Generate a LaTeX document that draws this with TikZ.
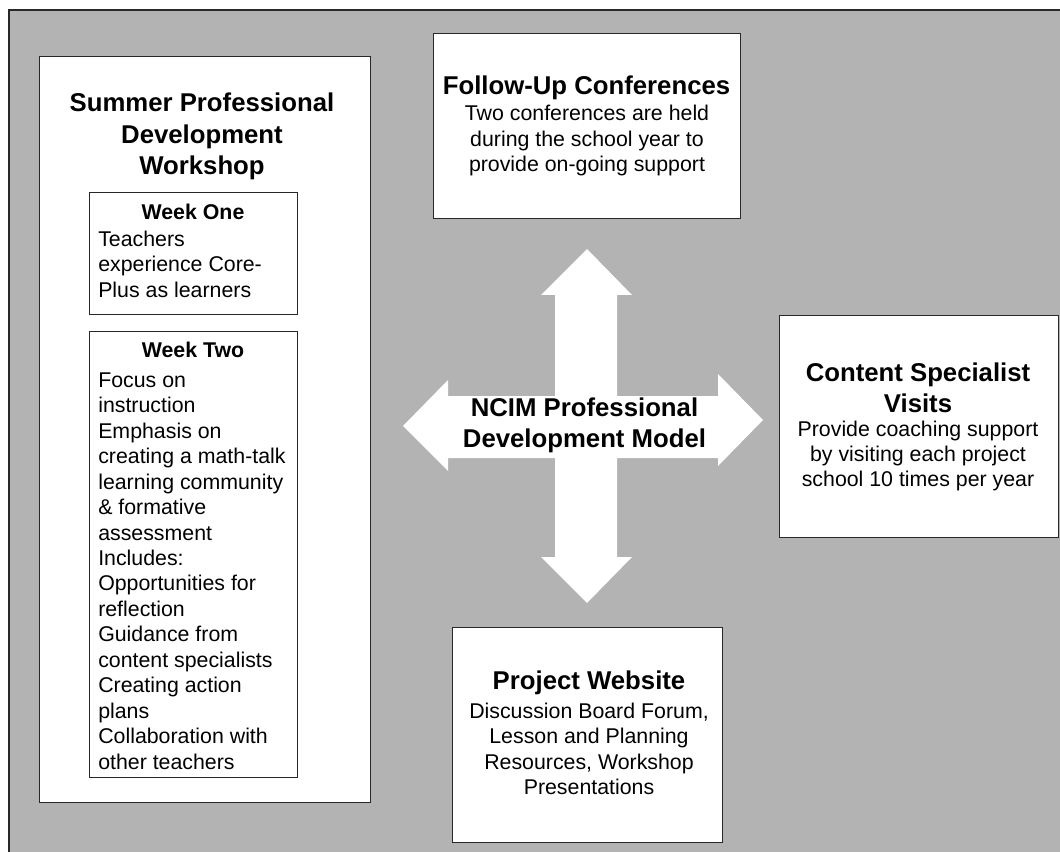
\documentclass[tikz,border=0pt]{standalone}
\usepackage{fontspec}
\setmainfont{Liberation Sans}
\definecolor{bggray}{RGB}{179,179,179}
\definecolor{edge}{RGB}{40,40,40}
\begin{document}
\begin{tikzpicture}[x=0.75pt,y=-0.75pt,
  box/.style={draw=edge, line width=0.75pt, fill=white, inner sep=0pt, anchor=north west},
  body/.style={font=\fontsize{16}{19.1}\selectfont, inner sep=0pt},
  ttl/.style={font=\fontsize{19.3}{23.4}\selectfont\bfseries, inner sep=0pt, align=center},
  hd/.style={font=\fontsize{16}{19.1}\selectfont\bfseries, inner sep=0pt}]
\useasboundingbox (0,0) rectangle (1060,852);
\fill[white] (0,0) rectangle (1060,852);
\fill[bggray] (9,10) rectangle (1060,852);
\draw[edge, line width=1.1pt] (9,852) -- (9,10) -- (1060,10);

% boxes
\node[box, minimum width=248.25pt, minimum height=559.5pt] (summer) at (39,56) {};
\node[box, minimum width=156pt, minimum height=91.5pt] (week1) at (89,192) {};
\node[box, minimum width=156pt, minimum height=334.5pt] (week2) at (89,331) {};
\node[box, minimum width=230.25pt, minimum height=138.75pt] (follow) at (433,33) {};
\node[box, minimum width=209.25pt, minimum height=166.5pt] (content) at (779,315) {};
\node[box, minimum width=202.5pt, minimum height=161.25pt] (website) at (452,627) {};

% central cross arrow
\fill[white]
  (587,249) -- (632,295) -- (617,295) -- (617,557) -- (632,557) -- (587,603)
  -- (541,557) -- (555,557) -- (555,295) -- (541,295) -- cycle
  (403,426) -- (448,380) -- (448,396) -- (718,396) -- (718,374) -- (763,420)
  -- (718,466) -- (718,458) -- (448,458) -- (448,471) -- cycle;

% texts
\node[ttl] (summerT) at (202,136.5) {Summer Professional\\Development\\Workshop};

\node[hd] (week1T) at (193,212) {Week One};
\node[body, anchor=west, align=left] (week1B) at (98,264) {Teachers\\experience Core-\\Plus as learners};

\node[hd] (week2T) at (193,350) {Week Two};
\node[body, anchor=west, align=left] (week2B) at (98,571) {Focus on\\instruction\\Emphasis on\\creating a math-talk\\learning community\\\& formative\\assessment\\Includes:\\Opportunities for\\reflection\\Guidance from\\content specialists\\Creating action\\plans\\Collaboration with\\other teachers};

\node[ttl] (followT) at (586.5,88) {Follow-Up Conferences};
\node[body, align=center] (followB) at (587,140.5) {Two conferences are held\\during the school year to\\provide on-going support};

\node[ttl] (contentT) at (918,387.5) {Content Specialist\\Visits};
\node[body, align=center] (contentB) at (918,456) {Provide coaching support\\by visiting each project\\school 10 times per year};

\node[ttl] (websiteT) at (589,683) {Project Website};
\node[body, align=center] (websiteB) at (589,749) {Discussion Board Forum,\\Lesson and Planning\\Resources, Workshop\\Presentations};

\node[ttl] (ncim) at (584.5,425.5) {NCIM Professional\\Development Model};
\end{tikzpicture}
\end{document}
